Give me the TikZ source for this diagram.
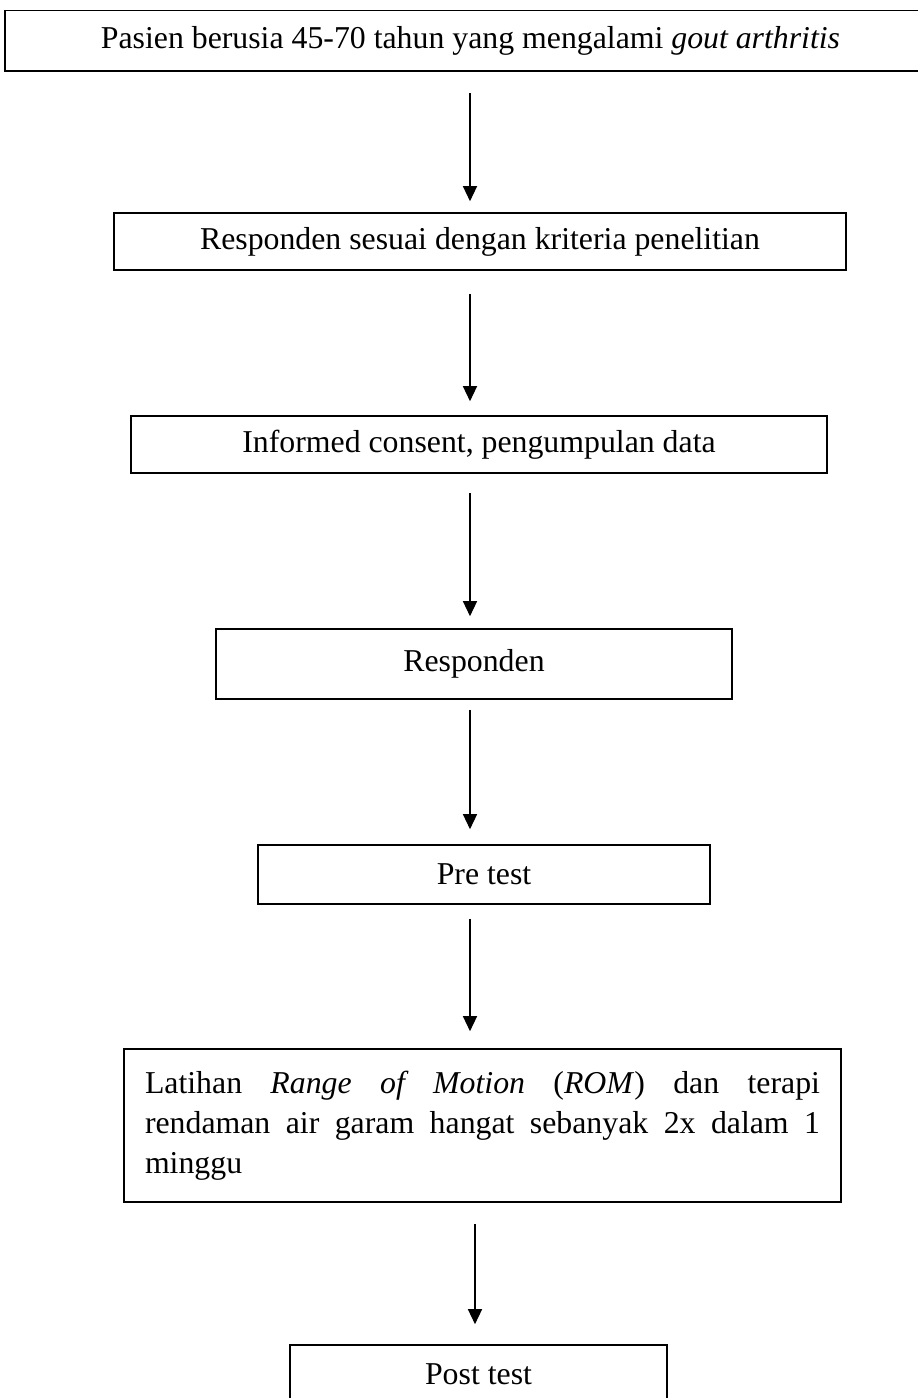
\documentclass[tikz,border=0pt]{standalone}
\usepackage{fontspec}
\setmainfont{Liberation Serif}
\usetikzlibrary{arrows.meta}
\tikzset{
  stepbox/.style={draw=black, line width=1.6pt, rectangle, inner sep=0pt, align=center,
    font=\fontsize{31.8}{40}\selectfont},
  arr/.style={draw=black, line width=1.3pt, -{Triangle[length=15pt,width=14pt]}}
}
\begin{document}
\begin{tikzpicture}[x=1pt,y=-1pt]
\useasboundingbox (0,0) rectangle (918,1398);
\coordinate (ax) at (470,0);
\coordinate (bx) at (475,0);
\node[stepbox, minimum width=931pt, minimum height=60.5pt] (b1) at (470.5,40.75)
  {Pasien berusia 45-70 tahun yang mengalami \textit{gout arthritis}};
\node[stepbox, minimum width=732pt, minimum height=57pt] (b2) at (480,241.5)
  {Responden sesuai dengan kriteria penelitian};
\node[stepbox, minimum width=696pt, minimum height=57pt] (b3) at (479,444.5)
  {Informed consent, pengumpulan data};
\node[stepbox, minimum width=516pt, minimum height=70pt] (b4) at (474,664)
  {\raisebox{4pt}{Responden}};
\node[stepbox, minimum width=452pt, minimum height=59pt] (b5) at (484,874.5)
  {Pre test};
\node[stepbox, minimum width=717pt, minimum height=153pt, text width=675pt, align=justify] (b6) at (482.5,1125.5)
  {Latihan \textit{Range of Motion} (\textit{ROM}) dan terapi\linebreak rendaman air garam hangat sebanyak 2x dalam 1\linebreak minggu};
\node[stepbox, minimum width=377pt, minimum height=58pt] (b7) at (478.5,1374)
  {Post test};
\draw[arr, shorten <=21pt, shorten >=11pt] (b1.south -| ax) -- (b2.north -| ax);
\draw[arr, shorten <=23pt, shorten >=14pt] (b2.south -| ax) -- (b3.north -| ax);
\draw[arr, shorten <=19pt, shorten >=12pt] (b3.south -| ax) -- (b4.north -| ax);
\draw[arr, shorten <=10pt, shorten >=15pt] (b4.south -| ax) -- (b5.north -| ax);
\draw[arr, shorten <=14pt, shorten >=17pt] (b5.south -| ax) -- (b6.north -| ax);
\draw[arr, shorten <=21pt, shorten >=20pt] (b6.south -| bx) -- (b7.north -| bx);
\end{tikzpicture}
\end{document}
